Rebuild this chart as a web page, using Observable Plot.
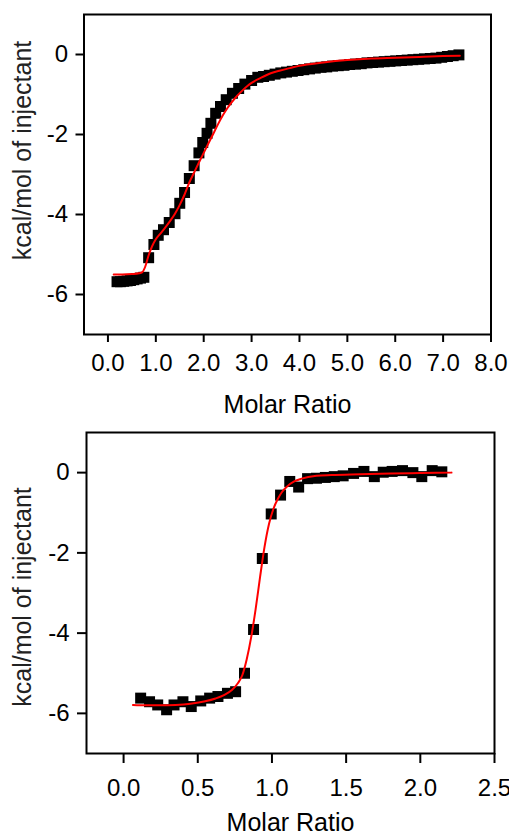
<!DOCTYPE html>
<html><head><meta charset="utf-8">
<script src="https://cdn.jsdelivr.net/npm/d3@7"></script>
<script src="https://cdn.jsdelivr.net/npm/@observablehq/plot@0.6"></script>
<style>
body{margin:0;background:#fff;}
#chart svg{display:block;}
svg g[aria-label$="axis tick"]{stroke-width:2px;}
</style></head><body><div id="chart"></div>
<script>
// ---- Top panel data ----
const topPointsX = [0.19,0.26,0.33,0.40,0.47,0.54,0.61,0.68,0.75,0.85,0.96,1.05,1.16,1.28,1.40,1.50,1.60,1.70,1.80,1.90,1.98,2.07,2.15,2.25,2.35,2.47,2.60,2.73,2.86,3.00,3.13,3.25,3.37,3.49,3.61,3.73,3.85,3.97,4.09,4.21,4.33,4.45,4.57,4.69,4.81,4.93,5.05,5.17,5.29,5.41,5.53,5.65,5.77,5.89,6.01,6.13,6.25,6.37,6.49,6.61,6.73,6.85,6.97,7.09,7.21,7.33];
const topPointsY = [-5.68,-5.68,-5.67,-5.66,-5.65,-5.63,-5.61,-5.59,-5.57,-5.08,-4.75,-4.52,-4.38,-4.20,-3.98,-3.72,-3.45,-3.10,-2.78,-2.46,-2.20,-1.97,-1.72,-1.47,-1.30,-1.13,-0.97,-0.85,-0.74,-0.65,-0.57,-0.55,-0.52,-0.49,-0.46,-0.44,-0.42,-0.40,-0.38,-0.36,-0.34,-0.32,-0.31,-0.29,-0.28,-0.27,-0.25,-0.24,-0.23,-0.21,-0.20,-0.19,-0.18,-0.17,-0.16,-0.15,-0.14,-0.13,-0.12,-0.11,-0.10,-0.09,-0.07,-0.05,-0.03,-0.01];
const topFitX = [0.12,0.30,0.50,0.65,0.72,0.78,0.85,0.92,1.00,1.10,1.20,1.30,1.40,1.50,1.60,1.70,1.80,1.90,2.00,2.10,2.20,2.30,2.40,2.50,2.60,2.70,2.80,2.90,3.00,3.20,3.40,3.60,3.80,4.00,4.50,5.00,5.50,6.00,6.50,7.00,7.35];
const topFitY = [-5.50,-5.50,-5.49,-5.47,-5.44,-5.30,-5.02,-4.80,-4.62,-4.47,-4.32,-4.16,-3.98,-3.76,-3.50,-3.20,-2.95,-2.70,-2.46,-2.22,-1.98,-1.74,-1.52,-1.33,-1.17,-1.03,-0.91,-0.80,-0.71,-0.58,-0.47,-0.40,-0.34,-0.28,-0.20,-0.14,-0.10,-0.08,-0.06,-0.04,-0.03];
const topXTicks = [0,1,2,3,4,5,6,7,8];

// ---- Bottom panel data ----
const botPointsX = [0.115,0.175,0.23,0.29,0.34,0.40,0.456,0.52,0.58,0.636,0.70,0.755,0.815,0.876,0.935,0.995,1.058,1.12,1.18,1.24,1.30,1.36,1.42,1.48,1.55,1.62,1.69,1.75,1.81,1.88,1.95,2.01,2.08,2.145];
const botPointsY = [-5.62,-5.71,-5.79,-5.91,-5.79,-5.71,-5.83,-5.69,-5.62,-5.58,-5.50,-5.46,-5.00,-3.91,-2.14,-1.03,-0.56,-0.22,-0.36,-0.15,-0.14,-0.12,-0.10,-0.08,-0.02,0.03,-0.10,0.01,0.03,0.05,0.00,-0.10,0.05,0.02];
const botFitX = [0.063,0.15,0.25,0.35,0.45,0.55,0.62,0.68,0.73,0.77,0.80,0.83,0.86,0.89,0.92,0.95,0.98,1.01,1.04,1.07,1.10,1.15,1.20,1.30,1.40,1.60,1.80,2.00,2.21];
const botFitY = [-5.79,-5.80,-5.80,-5.79,-5.76,-5.70,-5.63,-5.54,-5.42,-5.25,-5.05,-4.65,-4.10,-3.40,-2.60,-1.85,-1.28,-0.90,-0.65,-0.47,-0.35,-0.22,-0.15,-0.08,-0.06,-0.04,-0.02,-0.01,0.00];
const botXTicks = [0,0.5,1,1.5,2,2.5];

const yTicks = [0,-2,-4,-6];
const xLabel = "Molar Ratio";
const yLabel = "kcal/mol of injectant";

function zipXY(xs, ys) { return xs.map((x, i) => ({x, y: ys[i]})); }

function panel(o) {
  return Plot.plot({
    width: 509, height: 416,
    marginTop: o.mt, marginBottom: o.mb, marginLeft: o.ml, marginRight: o.mr,
    style: {fontFamily: "'Liberation Sans', Arial, sans-serif", fontSize: "24px", color: "black", background: "white", overflow: "visible"},
    x: {domain: o.xDomain, ticks: o.xTicks, tickFormat: d3.format(".1f"), tickSize: o.xts, tickPadding: o.xtp, label: null},
    y: {domain: [-7, 1], ticks: yTicks, tickFormat: d => String(d), tickSize: o.yts, tickPadding: 8, label: null},
    marks: [
      Plot.frame({stroke: "black", strokeWidth: 2}),
      Plot.dot(o.pts, {x: "x", y: "y", symbol: "square", r: 6.2, fill: "black", stroke: "none"}),
      Plot.line(o.fit, {x: "x", y: "y", stroke: "#ff0000", strokeWidth: 2, curve: "monotone-x"}),
      Plot.text([xLabel], {frameAnchor: "bottom", textAnchor: "middle", lineAnchor: "top", dy: o.xlDy, fontSize: 25, fill: "black"}),
      Plot.text([yLabel], {frameAnchor: "left", textAnchor: "middle", rotate: -90, lineAnchor: "top", dx: o.ylDx, dy: o.ylDy, fontSize: 25, fill: "#222"})
    ]
  });
}

const chart = document.getElementById("chart");
chart.append(panel({
  pts: zipXY(topPointsX, topPointsY), fit: zipXY(topFitX, topFitY),
  xDomain: [-0.5, 8], xTicks: topXTicks, xts: 8, xtp: 11, yts: 8,
  mt: 14, mb: 82, ml: 83.5, mr: 18.5, xlDy: 61, ylDx: -71, ylDy: -24
}));
chart.append(panel({
  pts: zipXY(botPointsX, botPointsY), fit: zipXY(botFitX, botFitY),
  xDomain: [-0.25, 2.5], xTicks: botXTicks, xts: 10, xtp: 15, yts: 9,
  mt: 16, mb: 79, ml: 86, mr: 15, xlDy: 60, ylDx: -73, ylDy: 4
}));
</script>
</body></html>
